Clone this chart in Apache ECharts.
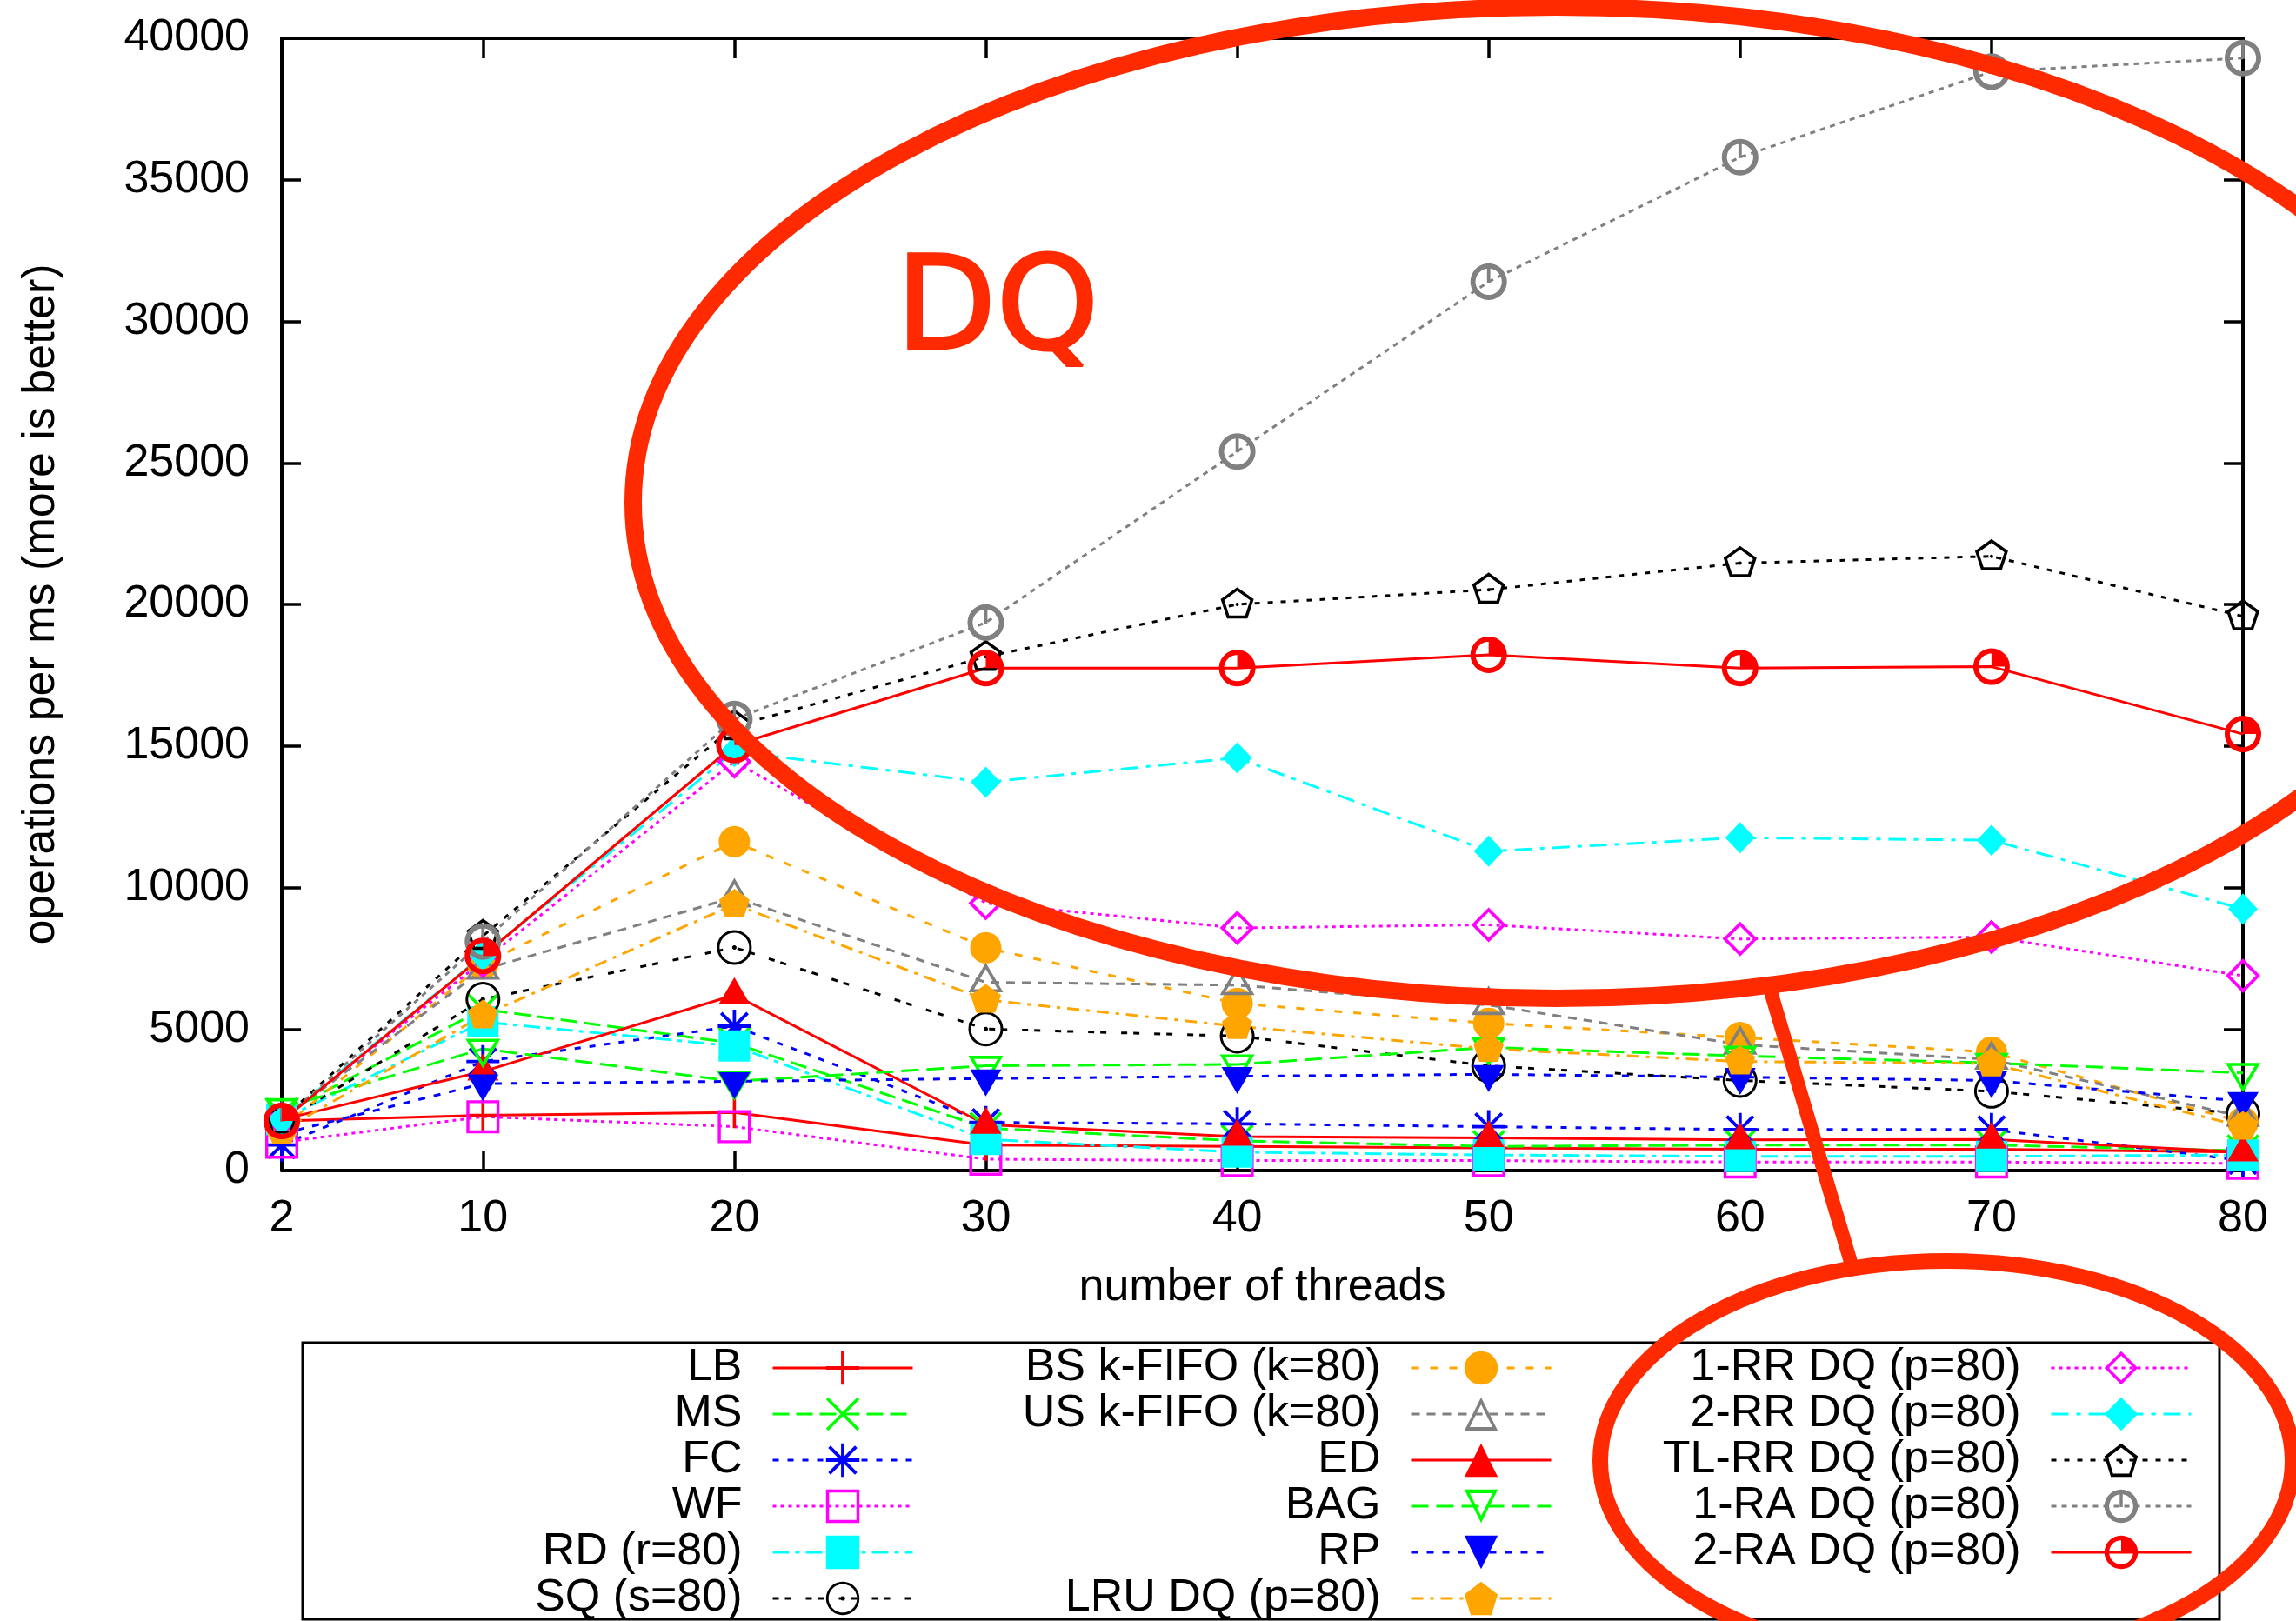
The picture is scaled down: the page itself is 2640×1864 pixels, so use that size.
<!DOCTYPE html>
<html><head><meta charset="utf-8">
<script src="https://cdn.jsdelivr.net/npm/echarts@6/dist/echarts.min.js"></script>
<style>html,body{margin:0;padding:0;background:#fff}#c{width:2640px;height:1864px}</style>
</head><body><div id="c"></div>
<script>
// ---------- data ----------
const threads = [2, 10, 20, 30, 40, 50, 60, 70, 80];
const xTickLabels = [2, 10, 20, 30, 40, 50, 60, 70, 80];
const yMin = 0, yMax = 40000, yStep = 5000;

const lb      = [1750, 1950, 2050,  900,  850,  800,  750,  750,  650];
const ms      = [2000, 5700, 4500, 1500, 1050,  850,  900,  900,  700];
const fc      = [ 900, 3850, 5100, 1700, 1650, 1550, 1450, 1450,  350];
const wf      = [1000, 1900, 1550,  400,  350,  350,  300,  300,  250];
const rd      = [1800, 5250, 4400, 1100,  650,  550,  500,  500,  550];
const sq      = [1700, 6050, 7880, 5000, 4750, 3700, 3180, 2800, 2000];
const bsKfifo = [1500, 7300, 11620, 7870, 5900, 5200, 4700, 4180, 1700];
const usKfifo = [1800, 7100, 9650, 6650, 6550, 5850, 4450, 3920, 1900];
const ed      = [1800, 3500, 6200, 1620, 1200, 1150, 1080, 1100,  650];
const bag     = [2200, 4300, 3150, 3700, 3750, 4350, 4050, 3800, 3450];
const rp      = [1300, 3070, 3150, 3250, 3330, 3400, 3300, 3180, 2450];
const lruDq   = [1400, 5480, 9400, 6030, 5100, 4300, 3850, 3780, 1550];
const rr1Dq   = [1800, 7400, 14450, 9450, 8570, 8680, 8180, 8250, 6880];
const rr2Dq   = [1800, 7600, 14800, 13720, 14580, 11280, 11760, 11670, 9240];
const tlrrDq  = [1800, 8290, 15700, 18150, 20000, 20520, 21460, 21700, 19580];
const ra1Dq   = [1750, 8090, 15950, 19360, 25400, 31400, 35800, 38820, 39300];
const ra2Dq   = [1750, 7580, 15030, 17750, 17750, 18220, 17750, 17800, 15420];

const legendCol1 = ['LB', 'MS', 'FC', 'WF', 'RD (r=80)', 'SQ (s=80)'];
const legendCol2 = ['BS k-FIFO (k=80)', 'US k-FIFO (k=80)', 'ED', 'BAG', 'RP', 'LRU DQ (p=80)'];
const legendCol3 = ['1-RR DQ (p=80)', '2-RR DQ (p=80)', 'TL-RR DQ (p=80)', '1-RA DQ (p=80)', '2-RA DQ (p=80)'];

// ---------- symbol shapes ----------
function fmt(n){ return (Math.round(n*1000)/1000).toString(); }
function P(pts){ return 'M' + pts.map(p => fmt(p[0]) + ',' + fmt(p[1])).join('L') + 'Z'; }
function area(pts){ let s=0; for(let i=0;i<pts.length;i++){const a=pts[i],b=pts[(i+1)%pts.length]; s+=a[0]*b[1]-b[0]*a[1];} return s/2; }
function orient(pts, pos){ const a=area(pts); return ((a>=0)===pos) ? pts : pts.slice().reverse(); }
function ring(outer, k, c){ c=c||[0,0]; const inner = outer.map(p=>[c[0]+(p[0]-c[0])*k, c[1]+(p[1]-c[1])*k]); return P(orient(outer,true)) + P(orient(inner,false)); }
function fill(pts){ return P(orient(pts,true)); }
function circ(n, r, cx, cy){ cx=cx||0; cy=cy||0; const a=[]; for(let i=0;i<n;i++){const t=2*Math.PI*i/n; a.push([cx+r*Math.cos(t), cy+r*Math.sin(t)]);} return a; }
function bar(x1,y1,x2,y2,w){ const dx=x2-x1, dy=y2-y1, L=Math.hypot(dx,dy), nx=-dy/L*w, ny=dx/L*w; return fill([[x1+nx,y1+ny],[x2+nx,y2+ny],[x2-nx,y2-ny],[x1-nx,y1-ny]]); }
function sector(r, a0, a1, n){ const pts=[[0,0]]; for(let i=0;i<=n;i++){const t=a0+(a1-a0)*i/n; pts.push([r*Math.cos(t), r*Math.sin(t)]);} return fill(pts); }

const SQUARE = [[-1,-1],[1,-1],[1,1],[-1,1]];
const TRI_UP = [[0,-1],[1,1],[-1,1]];
const TRI_DN = [[-1,-1],[1,-1],[0,1]];
const DIAM = [[0,-1],[1,0],[0,1],[-1,0]];
const PENT = [0,1,2,3,4].map(i=>{const t=-Math.PI/2+i*2*Math.PI/5; return [Math.cos(t), Math.sin(t)];});
const CIRC = circ(48, 1);
const W = 0.1;
const SYM = {
  plus:  bar(0,-1,0,1,W) + bar(-1,0,1,0,W),
  cross: bar(-1,-1,1,1,W) + bar(-1,1,1,-1,W),
  star:  bar(0,-1,0,1,W) + bar(-1,0,1,0,W) + bar(-0.8,-0.8,0.8,0.8,W) + bar(-0.8,0.8,0.8,-0.8,W),
  sqOpen: ring(SQUARE, 0.82),
  sqFill: fill(SQUARE),
  circDot: ring(CIRC, 0.85) + fill(circ(12, 0.13)),
  circFill: fill(CIRC),
  triOpen: ring(TRI_UP, 0.68, [0, 1/3]),
  triFill: fill(TRI_UP),
  itriOpen: ring(TRI_DN, 0.68, [0, -1/3]),
  itriFill: fill(TRI_DN),
  pentFill: fill(PENT),
  pentDot: ring(PENT, 0.78) + fill(circ(12, 0.1)),
  diaOpen: ring(DIAM, 0.74),
  diaFill: fill(DIAM),
  quarterOpen: ring(CIRC, 0.72) + bar(0,0.05,0,-0.8,0.09),
  quarterFill: ring(CIRC, 0.72) + sector(0.76, -Math.PI/2, 0, 12)
};

// ---------- series styles ----------
const COL = {red:'#ff0000', green:'#00ff00', blue:'#0000ff', magenta:'#ff00ff', cyan:'#00ffff', black:'#000000', orange:'#ffa500', gray:'#808080'};
const seriesDefs = [
  {name:'LB', values:lb, color:COL.red, dash:'solid', sym:'plus', size:36},
  {name:'MS', values:ms, color:COL.green, dash:[19,8], sym:'cross', size:38},
  {name:'FC', values:fc, color:COL.blue, dash:[7,10], sym:'star', size:38},
  {name:'WF', values:wf, color:COL.magenta, dash:[4,5], sym:'sqOpen', size:38},
  {name:'RD (r=80)', values:rd, color:COL.cyan, dash:[19,7,5,7], sym:'sqFill', size:36},
  {name:'SQ (s=80)', values:sq, color:COL.black, dash:[7,7,7,17], sym:'circDot', size:40},
  {name:'BS k-FIFO (k=80)', values:bsKfifo, color:COL.orange, dash:[9,13], sym:'circFill', size:36},
  {name:'US k-FIFO (k=80)', values:usKfifo, color:COL.gray, dash:[10,8], sym:'triOpen', size:[40,34], off:[0,'-16%']},
  {name:'ED', values:ed, color:COL.red, dash:'solid', sym:'triFill', size:[36,31], off:[0,'-16%']},
  {name:'BAG', values:bag, color:COL.green, dash:[20,9], sym:'itriOpen', size:[40,34], off:[0,'16%']},
  {name:'RP', values:rp, color:COL.blue, dash:[8,10], sym:'itriFill', size:[36,31], off:[0,'16%']},
  {name:'LRU DQ (p=80)', values:lruDq, color:COL.orange, dash:[14,8,4,8], sym:'pentFill', size:[35,33], off:[0,'-5%']},
  {name:'1-RR DQ (p=80)', values:rr1Dq, color:COL.magenta, dash:[4,5], sym:'diaOpen', size:40},
  {name:'2-RR DQ (p=80)', values:rr2Dq, color:COL.cyan, dash:[20,9,5,9], sym:'diaFill', size:[34,36]},
  {name:'TL-RR DQ (p=80)', values:tlrrDq, color:COL.black, dash:[6,9], sym:'pentDot', size:[38,36], off:[0,'-5%']},
  {name:'1-RA DQ (p=80)', values:ra1Dq, color:COL.gray, dash:[6,6], sym:'quarterOpen', size:42},
  {name:'2-RA DQ (p=80)', values:ra2Dq, color:COL.red, dash:'solid', sym:'quarterFill', size:42}
];

const FONT = 'Liberation Sans';
const FS = 52;
const series = seriesDefs.map(d => ({
  type:'line', name:d.name,
  data: threads.map((x,i) => [x, d.values[i]]),
  xAxisIndex:0, yAxisIndex:0,
  symbol:'path://' + SYM[d.sym], symbolSize:d.size, symbolOffset:d.off || [0,0],
  showAllSymbol:true, clip:false, silent:true,
  lineStyle:{color:d.color, width:3, type:d.dash},
  itemStyle:{color:d.color, borderWidth:0},
  emphasis:{disabled:true}
}));

function legendCol(names, right){
  return {
    data:names, orient:'vertical', align:'right', right:right, top:1547, height:420,
    itemWidth:161, itemHeight:48, itemGap:1, padding:0, selectedMode:false,
    textStyle:{fontSize:FS, fontFamily:FONT, color:'#000', lineHeight:48, padding:[0,30,0,0]},
    lineStyle:{width:3}, itemStyle:{borderWidth:0}
  };
}

const axisLineStyle = {color:'#000', width:4};
const tickStyle = {color:'#000', width:3.5};
const labelStyle = {fontSize:FS, fontFamily:FONT, color:'#000'};
const ANN = '#ff2a00';

const option = {
  animation:false,
  backgroundColor:'#ffffff',
  textStyle:{fontFamily:FONT},
  grid:{left:324, right:61, top:44, bottom:518, containLabel:false, outerBoundsMode:'none'},
  xAxis:[
    {type:'value', min:2, max:80, position:'bottom',
     name:'number of threads', nameLocation:'middle', nameGap:109, nameMoveOverlap:false,
     nameTextStyle:labelStyle,
     axisLine:{onZero:false, lineStyle:axisLineStyle},
     axisTick:{inside:true, length:23, lineStyle:tickStyle, customValues:xTickLabels},
     axisLabel:Object.assign({customValues:xTickLabels, margin:30, formatter:v=>String(v)}, labelStyle),
     splitLine:{show:false}},
    {type:'value', min:2, max:80, position:'top',
     axisLine:{onZero:false, lineStyle:axisLineStyle},
     axisTick:{inside:true, length:23, lineStyle:tickStyle, customValues:xTickLabels},
     axisLabel:{show:false}, splitLine:{show:false}}
  ],
  yAxis:[
    {type:'value', min:yMin, max:yMax, interval:yStep, position:'left',
     name:'operations per ms (more is better)', nameLocation:'middle', nameGap:250, nameMoveOverlap:false,
     nameTextStyle:labelStyle,
     axisLine:{onZero:false, lineStyle:axisLineStyle},
     axisTick:{inside:true, length:22, lineStyle:tickStyle},
     axisLabel:Object.assign({margin:37, formatter:v=>String(v)}, labelStyle),
     splitLine:{show:false}},
    {type:'value', min:yMin, max:yMax, interval:yStep, position:'right',
     axisLine:{onZero:false, lineStyle:axisLineStyle},
     axisTick:{inside:true, length:22, lineStyle:tickStyle},
     axisLabel:{show:false}, splitLine:{show:false}}
  ],
  legend:[legendCol(legendCol1, 1589), legendCol(legendCol2, 855), legendCol(legendCol3, 119)],
  graphic:[
    {type:'rect', silent:true, z:1, shape:{x:348, y:1544, width:2204, height:318}, style:{fill:'none', stroke:'#000', lineWidth:3}},
    {type:'ellipse', silent:true, z:100, shape:{cx:1790, cy:578, rx:1062, ry:570}, style:{fill:'none', stroke:ANN, lineWidth:20}},
    {type:'ellipse', silent:true, z:100, shape:{cx:2238, cy:1680, rx:398, ry:230}, style:{fill:'none', stroke:ANN, lineWidth:18}},
    {type:'line', silent:true, z:100, shape:{x1:2036, y1:1140, x2:2130, y2:1458}, style:{stroke:ANN, lineWidth:16}},
    {type:'text', silent:true, z:100, x:1030, y:362, style:{text:'DQ', fill:ANN, fontSize:150, fontFamily:'DejaVu Sans', verticalAlign:'middle', align:'left', stroke:ANN, lineWidth:3}}
  ],
  series:series
};

const chart = echarts.init(document.getElementById('c'), null, {renderer:'canvas'});
chart.setOption(option);
</script>
</body></html>
